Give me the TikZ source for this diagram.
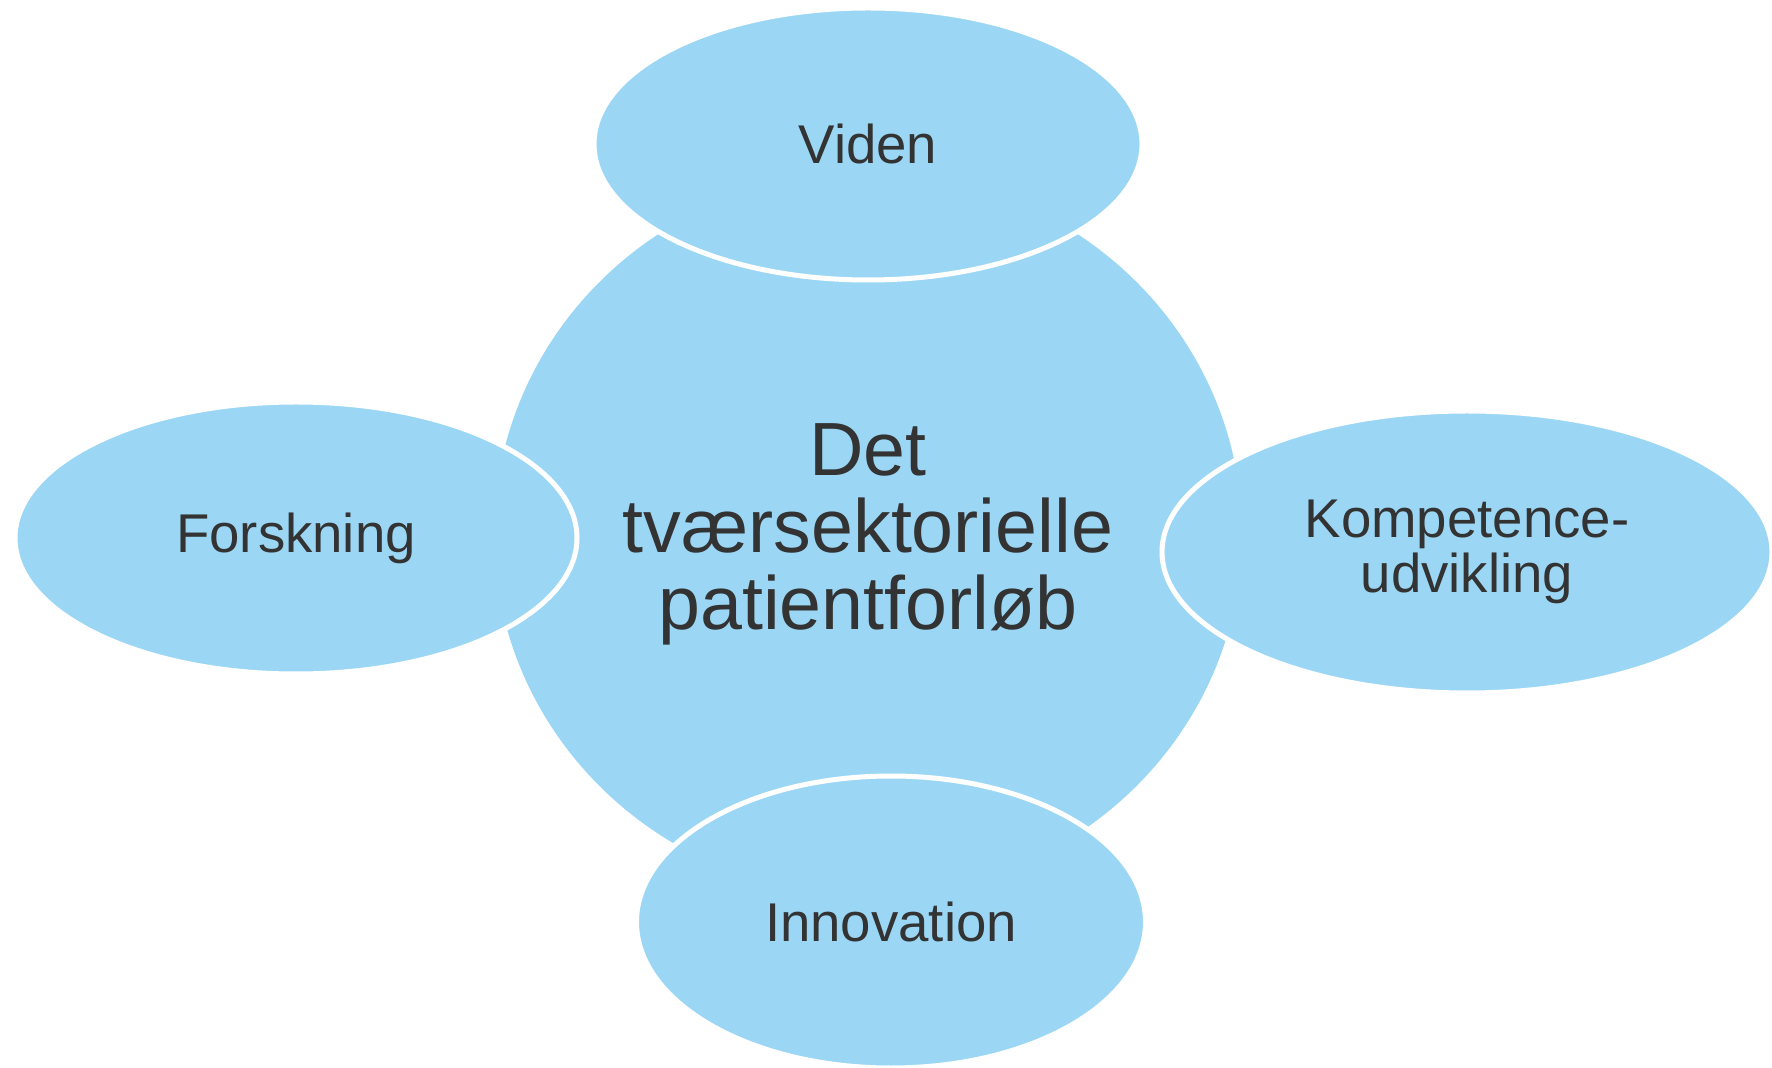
\documentclass[tikz,border=0pt]{standalone}
\usepackage{fontspec}
\setmainfont{Liberation Sans}
\usetikzlibrary{shapes.geometric}
\definecolor{bubble}{RGB}{155,215,245}
\definecolor{inktext}{RGB}{51,51,51}
\begin{document}
\begin{tikzpicture}[x=0.5pt,y=-0.5pt,
    hub/.style={ellipse,fill=bubble,text=inktext,inner sep=0pt,minimum width=374pt,minimum height=362pt,align=center,font=\fontsize{37.7}{38.5}\selectfont},
    spoke/.style={ellipse,fill=bubble,draw=white,line width=2.5pt,text=inktext,inner sep=0pt,align=center,font=\fontsize{27.3}{27.2}\selectfont}]
    \useasboundingbox (0,0) rectangle (1772,1068);
      % centre first, the four around it on top
      \node[hub] (forloeb) at (868,534) {Det\\tværsektorielle\\patientforløb};
      \node[spoke,minimum width=274pt,minimum height=136pt] (viden) at (868,144) {Viden};
      \node[spoke,minimum width=281pt,minimum height=136pt] (forskning) at (296,538) {Forskning};
      \node[spoke,minimum width=305pt,minimum height=141pt] (kompetence) at (1467,552) {Kompetence-\\udvikling};
      \node[spoke,minimum width=254.5pt,minimum height=146pt] (innovation) at (891,922) {Innovation};
    \end{tikzpicture}
\end{document}
